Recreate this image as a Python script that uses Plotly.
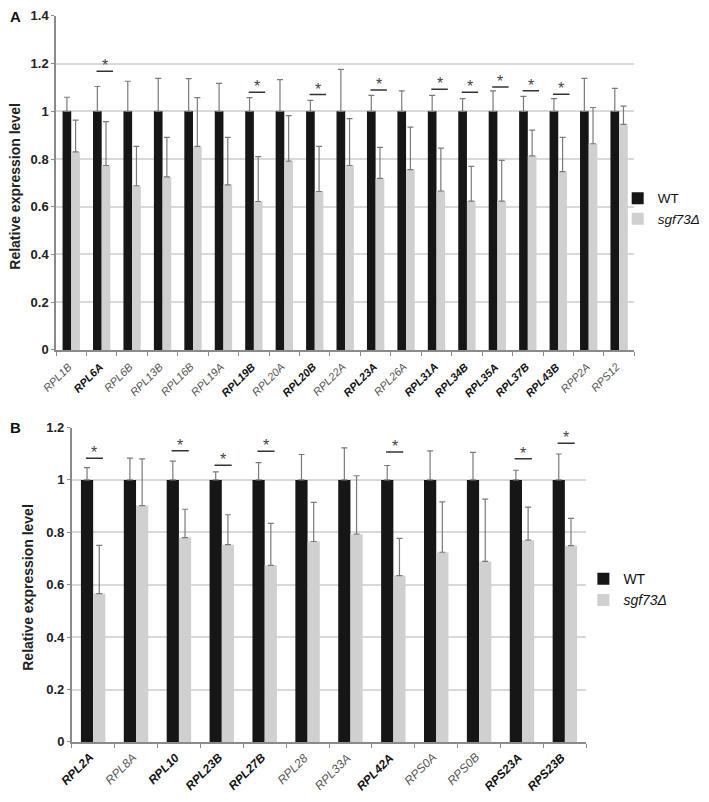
import plotly.graph_objects as go

# Panel A data
genes_a = ["RPL1B", "RPL6A", "RPL6B", "RPL13B", "RPL16B", "RPL19A", "RPL19B", "RPL20A", "RPL20B",
           "RPL22A", "RPL23A", "RPL26A", "RPL31A", "RPL34B", "RPL35A", "RPL37B", "RPL43B", "RPP2A", "RPS12"]
wt_a = [1.0] * 19
wt_err_a = [0.059, 0.104, 0.126, 0.138, 0.137, 0.117, 0.057, 0.133, 0.046, 0.176,
            0.067, 0.086, 0.067, 0.053, 0.086, 0.063, 0.053, 0.138, 0.096]
mut_a = [0.83, 0.773, 0.688, 0.725, 0.853, 0.692, 0.622, 0.791, 0.664, 0.773,
         0.719, 0.756, 0.666, 0.624, 0.624, 0.813, 0.747, 0.864, 0.945]
mut_err_a = [0.133, 0.184, 0.165, 0.166, 0.204, 0.199, 0.188, 0.191, 0.189, 0.196,
             0.130, 0.178, 0.180, 0.145, 0.170, 0.108, 0.144, 0.152, 0.077]
# height of significance bar (None = not significant)
sig_a = [None, 1.168, None, None, None, None, 1.08, None, 1.07, None,
         1.089, None, 1.092, 1.08, 1.102, 1.086, 1.072, None, None]

# Panel B data
genes_b = ["RPL2A", "RPL8A", "RPL10", "RPL23B", "RPL27B", "RPL28", "RPL33A", "RPL42A",
           "RPS0A", "RPS0B", "RPS23A", "RPS23B"]
wt_b = [1.0] * 12
wt_err_b = [0.047, 0.083, 0.072, 0.031, 0.066, 0.097, 0.122, 0.055, 0.111, 0.105, 0.037, 0.099]
mut_b = [0.566, 0.902, 0.780, 0.753, 0.674, 0.765, 0.793, 0.635, 0.724, 0.689, 0.770, 0.749]
mut_err_b = [0.184, 0.178, 0.108, 0.114, 0.160, 0.149, 0.223, 0.142, 0.192, 0.238, 0.126, 0.104]
sig_b = [1.083, None, 1.111, 1.056, 1.109, None, None, 1.107, None, None, 1.081, 1.14]

FONT = "Liberation Sans, Arial, sans-serif"
# page body keeps its 8px margin, so the figure is a bit smaller than the window
W, H = 693, 786
SX, SY = W / 707, (H - 4) / 796
BLACK = "#161616"
GREY = "#d0d0d0"
ERR = "#7a7a7a"


def px_x(p):
    # reference pixel -> paper fraction
    return (p - 2) * SX / W


def px_y(p):
    return 1 - (2 + (p - 2) * SY) / H


def label(g, bold):
    if bold:
        return f"<b><i>{g}</i></b>"
    return f"<span style='color:#555'><i>{g}</i></span>"


def err(vals):
    return dict(type="data", array=vals, arrayminus=[0] * len(vals), symmetric=False,
                color=ERR, thickness=1.2, width=3)


xa = list(range(len(genes_a)))
xb = list(range(len(genes_b)))

fig = go.Figure()
fig.add_trace(go.Bar(x=xa, y=wt_a, name="WT", marker_color=BLACK, marker_line_width=0,
                     error_y=err(wt_err_a), xaxis="x", yaxis="y", legend="legend"))
fig.add_trace(go.Bar(x=xa, y=mut_a, name="<i>sgf73Δ</i>", marker_color=GREY, marker_line_width=0,
                     error_y=err(mut_err_a), xaxis="x", yaxis="y", legend="legend"))
fig.add_trace(go.Bar(x=xb, y=wt_b, name="WT", marker_color=BLACK, marker_line_width=0,
                     error_y=err(wt_err_b), xaxis="x2", yaxis="y2", legend="legend2"))
fig.add_trace(go.Bar(x=xb, y=mut_b, name="<i>sgf73Δ</i>", marker_color=GREY, marker_line_width=0,
                     error_y=err(mut_err_b), xaxis="x2", yaxis="y2", legend="legend2"))

dom_a = [px_y(348), px_y(8)]
dom_b = [px_y(747), px_y(427)]

# significance bars + asterisks
for xref, yref, sig, half, off in [("x", "y", sig_a, 0.27, 0.1), ("x2", "y2", sig_b, 0.2, 0.03)]:
    for i, h in enumerate(sig):
        if h is None:
            continue
        fig.add_shape(type="line", xref=xref, yref=yref, x0=i + off - half, x1=i + off + half,
                      y0=h, y1=h, line=dict(color="#333", width=1.5))
        fig.add_annotation(xref=xref, yref=yref, x=i + off, y=h, text="*", showarrow=False,
                           yanchor="bottom", yshift=-5, font=dict(family=FONT, size=16, color="#444"))

# slanted gene labels under each pair
for xref, genes, sig, ybot, size, dy in [("x", genes_a, sig_a, dom_a[0], 11, -8),
                                         ("x2", genes_b, sig_b, dom_b[0], 12, -6)]:
    for i, g in enumerate(genes):
        fig.add_annotation(xref=xref, yref="paper", x=i, y=ybot, text=label(g, sig[i] is not None),
                           textangle=-45, showarrow=False, xanchor="right", yanchor="top",
                           xshift=6, yshift=dy, font=dict(family=FONT, size=size, color="#111"))

line_style = dict(showline=True, linecolor="#8a8a8a", linewidth=1.5, automargin=False)
yaxis_common = dict(line_style, showgrid=True, gridcolor="#d9d9d9", gridwidth=1.5, dtick=0.2,
                    ticks="outside", tickcolor="#8a8a8a", ticklen=3, ticklabeloverflow="allow",
                    tickfont=dict(family=FONT, size=13, color="#222"), tickprefix="<b>", ticksuffix="</b>",
                    zeroline=False)
xaxis_common = dict(line_style, ticks="", showticklabels=False, showgrid=False, zeroline=False,
                    minor=dict(tick0=-0.5, dtick=1, ticks="outside", ticklen=4, tickcolor="#8a8a8a",
                               showgrid=False))

fig.update_layout(
    width=W, height=H,
    margin=dict(l=0, r=0, t=0, b=0, pad=0, autoexpand=False),
    paper_bgcolor="white", plot_bgcolor="white",
    font=dict(family=FONT),
    barmode="group", bargap=0.43, bargroupgap=0,
    xaxis=dict(xaxis_common, domain=[px_x(51), px_x(641)], anchor="y", range=[-0.5, len(xa) - 0.5]),
    yaxis=dict(yaxis_common, domain=dom_a, range=[0, 1.4], anchor="x"),
    xaxis2=dict(xaxis_common, domain=[px_x(67), px_x(592)], anchor="y2", range=[-0.5, len(xb) - 0.5]),
    yaxis2=dict(yaxis_common, domain=dom_b, range=[0, 1.2], anchor="x2"),
    legend=dict(x=px_x(624), y=px_y(178), xanchor="left", yanchor="top", itemwidth=30,
                font=dict(family=FONT, size=13.5, color="#111"), bgcolor="rgba(0,0,0,0)"),
    legend2=dict(x=px_x(589), y=px_y(565), xanchor="left", yanchor="top", itemwidth=30,
                 font=dict(family=FONT, size=14, color="#111"), bgcolor="rgba(0,0,0,0)"),
)

# panel letters and y titles
for letter, ypix in [("A", 9), ("B", 427)]:
    fig.add_annotation(xref="paper", yref="paper", x=px_x(2), y=px_y(ypix), text=f"<b>{letter}</b>",
                       showarrow=False, xanchor="left", yanchor="middle",
                       font=dict(family=FONT, size=15, color="#111"))
for xpix, ypix in [(9, 181), (22.5, 590)]:
    fig.add_annotation(xref="paper", yref="paper", x=px_x(xpix), y=px_y(ypix),
                       text="<b>Relative expression level</b>", textangle=-90, showarrow=False,
                       xanchor="center", yanchor="middle", font=dict(family=FONT, size=14, color="#222"))

fig.write_html("out.html")
